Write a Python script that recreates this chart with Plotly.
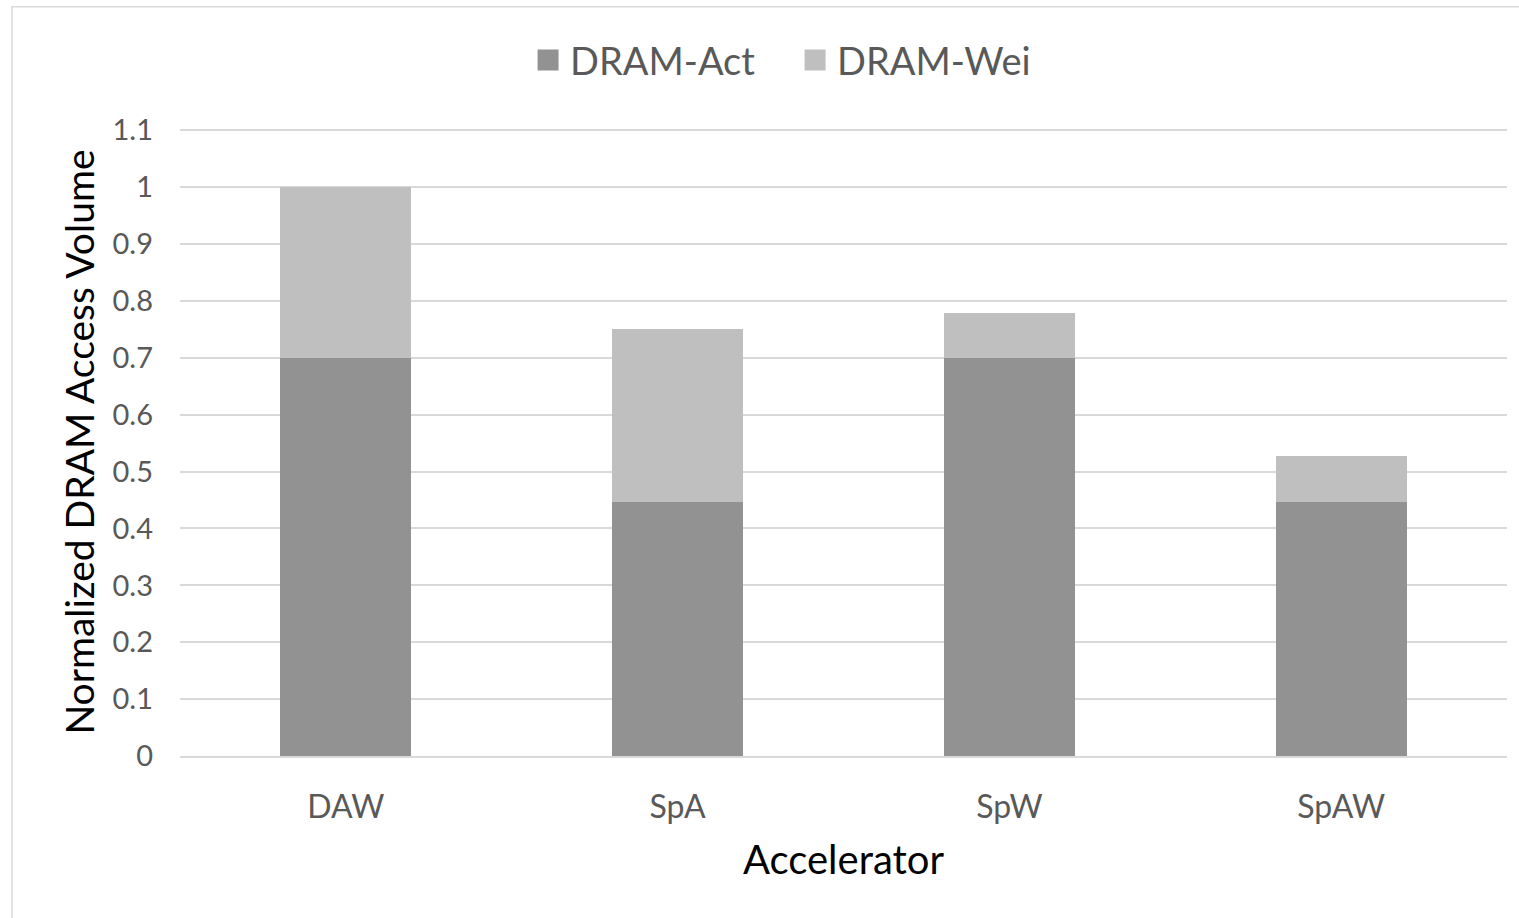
import plotly.graph_objects as go

# Accelerator configurations and normalized DRAM traffic split
accelerators = ["DAW", "SpA", "SpW", "SpAW"]
dram_act = [0.70, 0.447, 0.70, 0.447]
dram_wei = [0.30, 0.303, 0.078, 0.080]
y_ticks = [0, 0.1, 0.2, 0.3, 0.4, 0.5, 0.6, 0.7, 0.8, 0.9, 1, 1.1]
y_tick_text = ["0", "0.1", "0.2", "0.3", "0.4", "0.5", "0.6", "0.7", "0.8", "0.9", "1", "1.1"]

ACT_COLOR = "#929292"
WEI_COLOR = "#bfbfbf"
GRID_COLOR = "#d9d9d9"
TICK_COLOR = "#595959"
FONT = "Lato, 'Open Sans', sans-serif"

fig = go.Figure()
fig.add_trace(go.Bar(x=accelerators, y=dram_act, name="DRAM-Act",
                     marker=dict(color=ACT_COLOR, line=dict(width=0)),
                     showlegend=False, legendgroup="act"))
fig.add_trace(go.Bar(x=accelerators, y=dram_wei, name="DRAM-Wei",
                     marker=dict(color=WEI_COLOR, line=dict(width=0)),
                     showlegend=False, legendgroup="wei"))

# Legend entries with larger square swatches
for name, color, grp in [("DRAM-Act", ACT_COLOR, "act"), ("DRAM-Wei", WEI_COLOR, "wei")]:
    fig.add_trace(go.Scatter(x=[None], y=[None], mode="markers", name=name,
                             legendgroup=grp,
                             marker=dict(symbol="square", size=16, color=color,
                                         line=dict(color=color, width=5))))

fig.update_layout(
    width=1519, height=918,
    margin=dict(l=180, r=12, t=128, b=162),
    barmode="stack",
    bargap=0.605,
    plot_bgcolor="white",
    paper_bgcolor="white",
    font=dict(family=FONT, color=TICK_COLOR),
    legend=dict(orientation="h", x=0.462, xanchor="center", y=1.108, yanchor="middle",
                font=dict(size=38, color=TICK_COLOR, family=FONT),
                itemwidth=34, entrywidth=218, entrywidthmode="pixels",
                tracegroupgap=0, bgcolor="rgba(0,0,0,0)"),
    shapes=[dict(type="rect", xref="paper", yref="paper",
                 x0=-0.1266, x1=1.2, y0=-0.5, y1=1.193,
                 line=dict(color=GRID_COLOR, width=1.5), layer="below")],
)

fig.update_xaxes(
    showgrid=False, showline=True, linecolor=GRID_COLOR, linewidth=2,
    ticks="", tickfont=dict(size=32, color=TICK_COLOR, family=FONT),
    ticklabelstandoff=22,
    title=dict(text="Accelerator", font=dict(size=40, color="black", family=FONT), standoff=22),
)
fig.update_yaxes(
    range=[0, 1.104], tickvals=y_ticks, ticktext=y_tick_text,
    showgrid=True, gridcolor=GRID_COLOR, gridwidth=2,
    zeroline=False, showline=False, ticks="",
    tickfont=dict(size=29, color=TICK_COLOR, family=FONT),
    ticklabelstandoff=26,
    title=dict(text="Normalized DRAM Access Volume", font=dict(size=39, color="black", family=FONT), standoff=5),
)

fig.write_html("out.html")
